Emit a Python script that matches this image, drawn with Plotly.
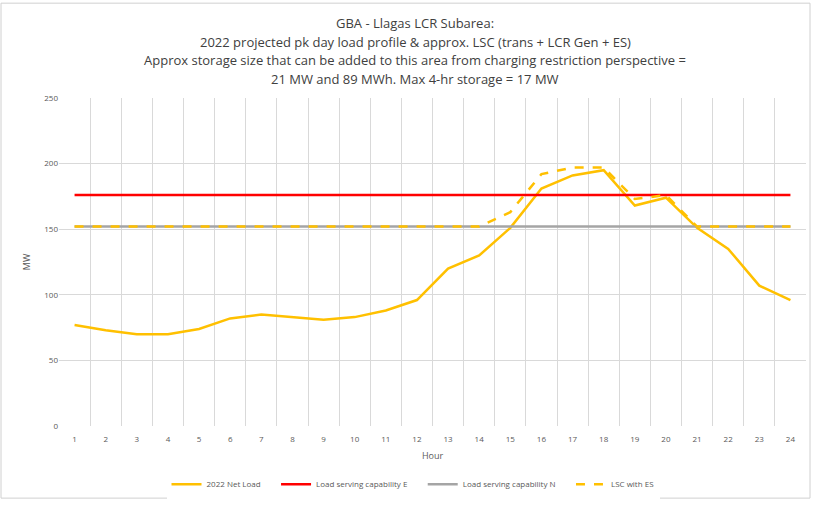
import plotly.graph_objects as go

hours = list(range(1, 25))
net_load = [77, 73, 70, 70, 74, 82, 85, 83, 81, 83, 88, 96,
            120, 130, 151, 181, 191, 195, 168, 174, 151, 135, 107, 96]
lsc_e = [176] * 24
lsc_n = [152] * 24
lsc_es = [152, 152, 152, 152, 152, 152, 152, 152, 152, 152, 152, 152,
          152, 152, 163, 192, 197, 197, 173, 176, 152, 152, 152, 152]
y_ticks = [0, 50, 100, 150, 200, 250]

title_lines = [
    "GBA - Llagas LCR Subarea:",
    "2022 projected pk day load profile & approx. LSC (trans + LCR Gen + ES)",
    "Approx storage size that can be added to this area from charging restriction perspective =",
    "21 MW and 89 MWh. Max 4-hr storage = 17 MW",
]

FONT = "Open Sans, Noto Sans, sans-serif"
PAD = "\u00a0" * 5
fig = go.Figure()
fig.add_trace(go.Scatter(x=hours, y=net_load, mode="lines", name="2022 Net Load" + PAD,
                         line=dict(color="#FFC000", width=2.5)))
fig.add_trace(go.Scatter(x=hours, y=lsc_e, mode="lines", name="Load serving capability E" + PAD,
                         line=dict(color="#FF0000", width=2.5)))
fig.add_trace(go.Scatter(x=hours, y=lsc_n, mode="lines", name="Load serving capability N" + PAD,
                         line=dict(color="#A5A5A5", width=2.5)))
fig.add_trace(go.Scatter(x=hours, y=lsc_es, mode="lines", name="LSC with ES",
                         line=dict(color="#FFC000", width=2.5, dash="dash")))

# plot area in window pixels: x 59..806, y 98..430
PW, PH = 747, 332
for i, t in enumerate(title_lines):
    fig.add_annotation(text=t, xref="paper", yref="paper", x=(415 - 59) / PW,
                       y=(430 - (22 + 19 * i)) / PH,
                       xanchor="center", yanchor="middle", showarrow=False,
                       font=dict(family=FONT, size=13, color="#404040"))

fig.add_shape(type="rect", xref="paper", yref="paper",
              x0=(1 - 59) / PW, x1=(810 - 59) / PW, y0=(430 - 503) / PH, y1=(430 - 2) / PH,
              line=dict(color="#D0D0D0", width=1), layer="below")

fig.update_layout(
    width=813, height=506,
    margin=dict(l=59, r=7, t=98, b=76),
    paper_bgcolor="white", plot_bgcolor="white",
    font=dict(family=FONT, color="#595959"),
    showlegend=True,
    legend=dict(orientation="h", x=(413 - 59) / PW, xanchor="center", y=(430 - 489) / PH,
                yanchor="middle", font=dict(size=8, color="#595959"), itemwidth=30,
                tracegroupgap=0),
    xaxis=dict(range=[0.5, 24.5], tickvals=hours, ticktext=[str(h) for h in hours],
               showgrid=False, zeroline=False, showline=False, ticks="",
               tickfont=dict(size=8, color="#595959"), ticklabelstandoff=7,
               minor=dict(tickvals=[h + 0.5 for h in range(0, 25)], showgrid=True,
                          gridcolor="#D9D9D9", gridwidth=1),
               title=dict(text="Hour", font=dict(size=9, color="#595959"), standoff=9)),
    yaxis=dict(range=[0, 250], tickvals=y_ticks, showgrid=True, gridcolor="#D9D9D9",
               zeroline=False, showline=False, ticks="",
               tickfont=dict(size=8, color="#595959"),
               title=dict(text="MW", font=dict(size=9, color="#595959"), standoff=12)),
)

fig.write_html("out.html", config={"displayModeBar": False},
               post_script="document.body.style.margin='0';document.body.style.overflow='hidden';")
